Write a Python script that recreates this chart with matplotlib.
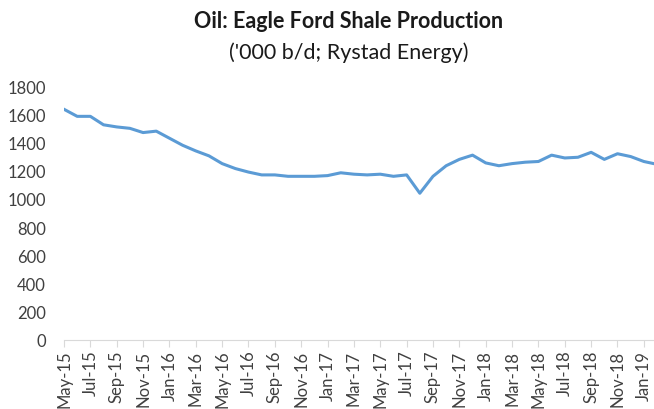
import matplotlib
matplotlib.use("Agg")
import matplotlib.pyplot as plt
import numpy as np

plt.rcParams['font.family'] = ['Lato', 'DejaVu Sans']

months = ["May-15", "Jun-15", "Jul-15", "Aug-15", "Sep-15", "Oct-15", "Nov-15", "Dec-15",
          "Jan-16", "Feb-16", "Mar-16", "Apr-16", "May-16", "Jun-16", "Jul-16", "Aug-16",
          "Sep-16", "Oct-16", "Nov-16", "Dec-16", "Jan-17", "Feb-17", "Mar-17", "Apr-17",
          "May-17", "Jun-17", "Jul-17", "Aug-17", "Sep-17", "Oct-17", "Nov-17", "Dec-17",
          "Jan-18", "Feb-18", "Mar-18", "Apr-18", "May-18", "Jun-18", "Jul-18", "Aug-18",
          "Sep-18", "Oct-18", "Nov-18", "Dec-18", "Jan-19", "Feb-19"]
production = [1635, 1585, 1585, 1525, 1510, 1500, 1470, 1480,
              1430, 1380, 1340, 1305, 1250, 1215, 1190, 1170,
              1170, 1160, 1160, 1160, 1165, 1185, 1175, 1170,
              1175, 1160, 1170, 1040, 1160, 1235, 1280, 1310,
              1255, 1235, 1250, 1260, 1265, 1310, 1290, 1295,
              1330, 1280, 1320, 1300, 1265, 1245]
y_ticks = [0, 200, 400, 600, 800, 1000, 1200, 1400, 1600, 1800]

fig = plt.figure(figsize=(6.54, 4.10), dpi=100)
ax = fig.add_axes([64 / 654, 1 - 341 / 410, 1 - 64 / 654, (341 - 87) / 410])

x = np.arange(len(months))
ax.plot(x, production, color="#5B9BD5", linewidth=2.2, solid_joinstyle="round")

ax.set_xlim(0, 44.77)
ax.set_ylim(0, 1800)
ax.set_yticks(y_ticks)
ax.set_xticks(x[::2])
ax.set_xticklabels(months[::2], rotation=90, fontsize=12, color="#404040")
ax.tick_params(axis="y", length=0, pad=13, labelsize=12, labelcolor="#404040")
ax.tick_params(axis="x", length=5, width=0.8, color="#D9D9D9", pad=2)

for side in ["top", "right", "left"]:
    ax.spines[side].set_visible(False)
ax.spines["bottom"].set_color("#D9D9D9")
ax.spines["bottom"].set_linewidth(0.8)

fig.text(0.533, 0.948, "Oil: Eagle Ford Shale Production", ha="center", va="center",
         fontsize=15.5, fontweight="bold", color="#1a1a1a")
fig.text(0.533, 0.872, "('000 b/d; Rystad Energy)", ha="center", va="center",
         fontsize=15.5, color="#1a1a1a")

fig.savefig("out.png", dpi=100)
